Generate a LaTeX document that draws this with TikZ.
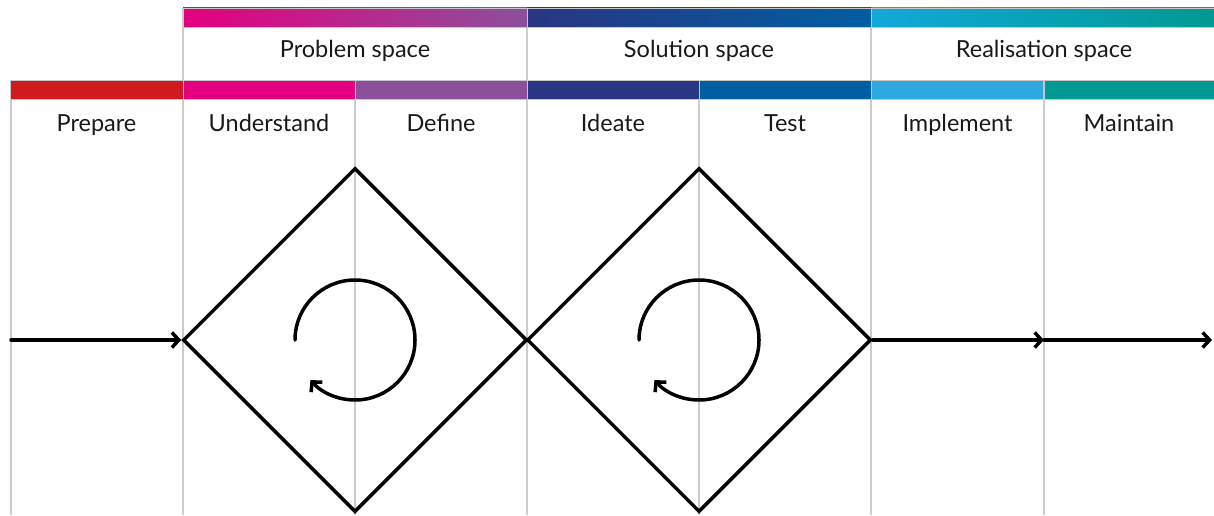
\documentclass[tikz,border=0pt]{standalone}
\usepackage{fontspec}
\setmainfont{Lato}
\usepackage{tikz}
\usetikzlibrary{arrows.meta,shapes.geometric}
\definecolor{prepred}{HTML}{D01A1E}
\definecolor{undmag}{HTML}{E4007F}
\definecolor{defpurp}{HTML}{8C4F9B}
\definecolor{ideindigo}{HTML}{2A3583}
\definecolor{testblue}{HTML}{005EA2}
\definecolor{implblue}{HTML}{2EA9E0}
\definecolor{realcyan}{HTML}{12A8DA}
\definecolor{mainteal}{HTML}{009A93}

\begin{document}
\begin{tikzpicture}[
x=1pt, y=1pt,
font=\fontsize{23.5}{27}\selectfont,
bar/.style={anchor=south west, inner sep=0pt, outer sep=0pt,
  minimum height=19pt, draw=black!22, line width=0.6pt},
spacebar/.style={bar, minimum width=344pt},
phasebar/.style={bar, minimum width=172pt},
caption/.style={anchor=base, inner sep=0pt, text=black!90},
divider/.style={draw=black!20, line width=1.8pt},
loop/.style={diamond, draw=black, line width=3.5pt, inner sep=0pt,
  minimum width=344pt, minimum height=344pt},
arrow/.style={-{Straight Barb[length=7pt, width=15pt]}, line width=3.5pt,
  line cap=round, black},
cycle/.style={-{Straight Barb[length=7pt, width=15pt]}, line width=3.5pt,
  line cap=round, black}
]
\useasboundingbox (0,0) rectangle (1214,515);

% column dividers
\draw[divider] (11,416) -- (11,0);
\draw[divider] (183,507) -- (183,0);
\draw[divider] (355,416) -- (355,0);
\draw[divider] (527,507) -- (527,0);
\draw[divider] (699,416) -- (699,0);
\draw[divider] (871,507) -- (871,0);
\draw[divider] (1044,416) -- (1044,0);

% space bars
\node[spacebar, left color=undmag, right color=defpurp] (probbar) at (183,488) {};
\node[spacebar, left color=ideindigo, right color=testblue] (solbar) at (527,488) {};
\node[spacebar, minimum width=343pt, left color=realcyan, right color=mainteal] (realbar) at (871,488) {};
\node[caption] (problem) at (355,457) {Problem space};
\node[caption] (solution) at (699,457) {Solution space};
\node[caption] (realisation) at (1044,457) {Realisation space};

% phase bars
\node[phasebar, minimum width=173pt, fill=prepred] (prepbar) at (10,416) {};
\node[phasebar, fill=undmag] (undbar) at (183,416) {};
\node[phasebar, fill=defpurp] (defbar) at (355,416) {};
\node[phasebar, fill=ideindigo] (idebar) at (527,416) {};
\node[phasebar, fill=testblue] (testbar) at (699,416) {};
\node[phasebar, fill=implblue] (implbar) at (871,416) {};
\node[phasebar, minimum width=171pt, fill=mainteal] (mainbar) at (1044,416) {};
\node[caption] (prepare) at (96.5,383) {Prepare};
\node[caption] (understand) at (269,383) {Understand};
\node[caption] (define) at (441,383) {Define};
\node[caption] (ideate) at (613,383) {Ideate};
\node[caption] (test) at (785,383) {Test};
\node[caption] (implement) at (957.5,383) {Implement};
\node[caption] (maintain) at (1129,383) {Maintain};

% double diamond
\node[loop] (problemloop) at (355,175) {};
\node[loop] (solutionloop) at (699,175) {};
\coordinate (start) at (11,175);
\coordinate (handover) at (1044,175);
\coordinate (finish) at (1212,175);
\draw[arrow] (start) -- (problemloop.west);
\draw[arrow] (solutionloop.east) -- (handover);
\draw[arrow] (handover) -- (finish);

% iteration arrows
\draw[cycle] ([shift={(180:60)}]problemloop.center)
  arc[start angle=180, end angle=-138, radius=60];
\draw[cycle] ([shift={(180:60)}]solutionloop.center)
  arc[start angle=180, end angle=-138, radius=60];
\end{tikzpicture}
\end{document}
